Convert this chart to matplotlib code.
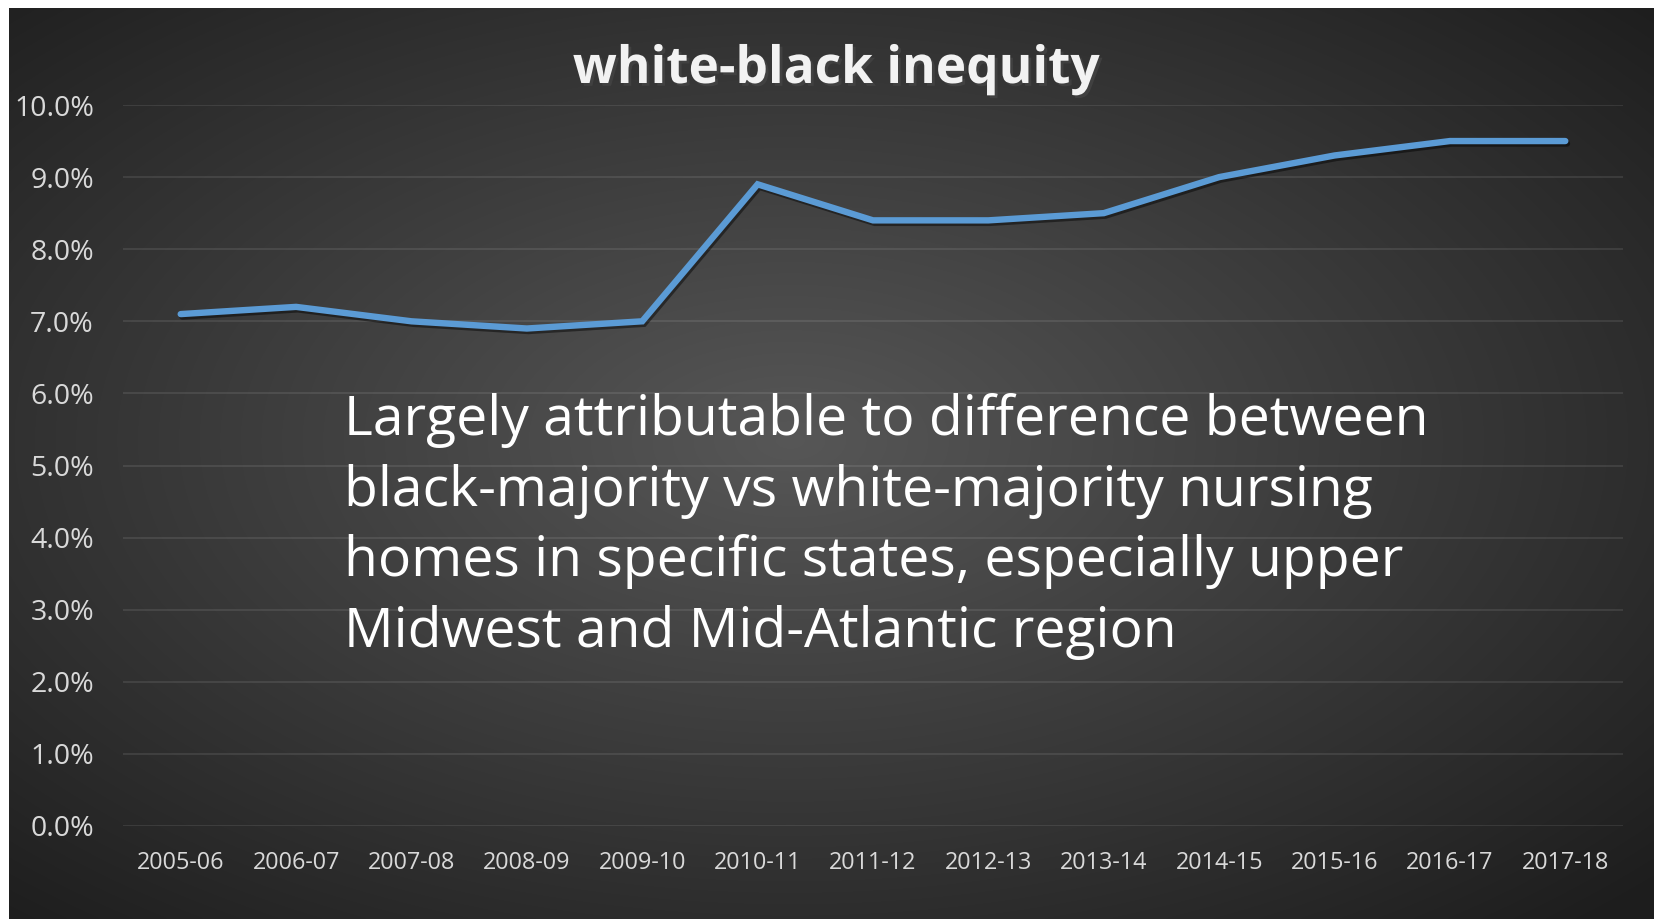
import numpy as np
import matplotlib
matplotlib.use("Agg")
import matplotlib.pyplot as plt
import matplotlib.patheffects as pe
from matplotlib.ticker import MultipleLocator, FuncFormatter

# data
years = ["2005-06", "2006-07", "2007-08", "2008-09", "2009-10", "2010-11",
         "2011-12", "2012-13", "2013-14", "2014-15", "2015-16", "2016-17",
         "2017-18"]
gap = [0.071, 0.072, 0.070, 0.069, 0.070, 0.089, 0.084, 0.084, 0.085,
       0.090, 0.093, 0.095, 0.095]

title = "white-black inequity"
note = ("Largely attributable to difference between\n"
        "black-majority vs white-majority nursing\n"
        "homes in specific states, especially upper\n"
        "Midwest and Mid-Atlantic region")

W, H = 1654, 919
fig = plt.figure(figsize=(W / 100, H / 100), dpi=100)
fig.patch.set_facecolor("white")

# dark radial gradient panel behind everything
bg = fig.add_axes([9 / W, 0, 1 - 9 / W, 1 - 8 / H], zorder=0)
gx, gy = np.meshgrid(np.linspace(-1, 1, 800), np.linspace(-1, 1, 450))
r = np.sqrt(((gx + 0.05) / 1.15) ** 2 + ((gy + 0.05) / 1.15) ** 2)
shade = 0.34 - 0.18 * np.clip(r, 0, 1.25)
bg.imshow(np.dstack([shade] * 3), aspect="auto", extent=[0, 1, 0, 1],
          interpolation="bilinear")
bg.axis("off")

ax = fig.add_axes([123 / W, 1 - 826 / H, 1500 / W, (826 - 105) / H], zorder=1)
ax.patch.set_alpha(0)
x = np.arange(len(years))
ax.plot(x, gap, color="#5B9BD5", lw=4.6, solid_capstyle="round",
        solid_joinstyle="miter", zorder=3,
        path_effects=[pe.SimpleLineShadow(offset=(1.2, -1.8), shadow_color="black", alpha=0.45),
                      pe.Normal()])

ax.set_xlim(-0.5, len(years) - 0.5)
ax.set_ylim(0, 0.10)
ax.yaxis.set_major_locator(MultipleLocator(0.01))
ax.yaxis.set_major_formatter(FuncFormatter(lambda v, p: f"{v * 100:.1f}%"))
ax.set_xticks(x)
ax.set_xticklabels(years)
ax.grid(axis="y", color="white", alpha=0.11, lw=1.2)
ax.set_axisbelow(True)
for s in ax.spines.values():
    s.set_visible(False)
ax.tick_params(axis="both", length=0, colors="#D9D9D9")
ax.tick_params(axis="y", pad=21, labelsize=20.5)
ax.tick_params(axis="x", pad=18, labelsize=16.8)
for lab in ax.get_xticklabels() + ax.get_yticklabels():
    lab.set_fontfamily("Open Sans")

fig.text(836 / W, 1 - 83 / H, title, ha="center", va="baseline",
         fontsize=37, fontweight="bold", family="Open Sans", color="#F2F2F2",
         path_effects=[pe.withSimplePatchShadow(offset=(2, -2), alpha=0.6)])

# va="baseline" on multi-line text pins the last line
fig.text(344 / W, 1 - 647 / H, note, ha="left", va="baseline",
         fontsize=39.8, family="Open Sans", color="white", linespacing=1.37)

fig.savefig("out.png", dpi=100, facecolor=fig.get_facecolor())
